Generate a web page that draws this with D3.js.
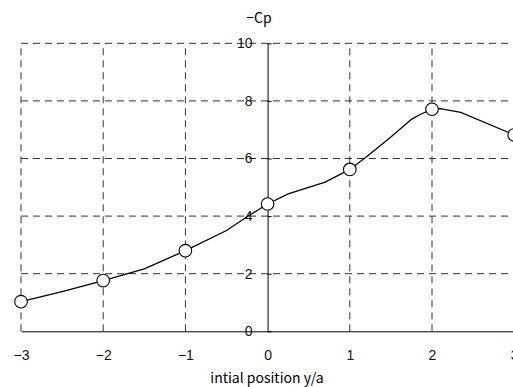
<!DOCTYPE html>
<html>
<head>
<meta charset="utf-8">
<script src="https://cdn.jsdelivr.net/npm/d3@7"></script>
<style>
  html, body { margin: 0; padding: 0; background: #fff; }
  svg { display: block; font-family: "Noto Sans CJK JP", "DejaVu Sans", sans-serif; }
  .grid line { stroke: #333; stroke-dasharray: 7,5; stroke-width: 1; }
  .axis path, .axis line { stroke: #000; }
  .axis text { font-size: 14px; fill: #111; }
</style>
</head>
<body>
<svg id="chart" width="513" height="387"></svg>
<script>
// marker positions (initial position y/a vs -Cp)
const markerX = [-3, -2, -1, 0, 1, 2, 3];
const markerY = [1.03, 1.76, 2.80, 4.42, 5.62, 7.71, 6.82];

// the connecting curve
const curveX = [-3, -2.5, -2, -1.5, -1, -0.5, -0.25, 0, 0.25, 0.7, 1, 1.2, 1.5, 1.75, 1.85, 2, 2.1, 2.35, 3];
const curveY = [1.03, 1.38, 1.76, 2.17, 2.80, 3.5, 3.98, 4.42, 4.77, 5.18, 5.62, 6.05, 6.75, 7.36, 7.52, 7.71, 7.73, 7.6, 6.82];

const xTicks = [-3, -2, -1, 0, 1, 2, 3];
const yTicks = [0, 2, 4, 6, 8, 10];

const svg = d3.select('#chart');

const x = d3.scaleLinear().domain([-3, 3]).range([21, 514.2]);
const y = d3.scaleLinear().domain([0, 10]).range([331.3, 43.3]);

// dashed grid
const grid = svg.append('g').attr('class', 'grid');
grid.selectAll('.gx')
  .data(xTicks.filter(d => d !== 0))
  .enter().append('line')
  .attr('x1', d => x(d)).attr('x2', d => x(d))
  .attr('y1', y(0)).attr('y2', y(10));
grid.selectAll('.gy')
  .data(yTicks.filter(d => d !== 0))
  .enter().append('line')
  .attr('x1', x(-3)).attr('x2', x(3))
  .attr('y1', d => y(d)).attr('y2', d => y(d));

// x axis along y=0
svg.append('g')
  .attr('class', 'axis')
  .attr('transform', `translate(0,${y(0)})`)
  .call(d3.axisBottom(x).tickValues(xTicks).tickFormat(d3.format('d'))
    .tickSize(0).tickSizeOuter(0).tickPadding(19));

// y axis along x=0
svg.append('g')
  .attr('class', 'axis')
  .attr('transform', `translate(${x(0)},0)`)
  .call(d3.axisLeft(y).tickValues(yTicks).tickFormat(d3.format('d'))
    .tickSize(-4).tickSizeOuter(0).tickPadding(15));

// titles
svg.append('text')
  .attr('x', 259).attr('y', 23)
  .attr('text-anchor', 'middle')
  .style('font-size', '14px')
  .text('\u2212Cp');

svg.append('text')
  .attr('x', 267).attr('y', 383)
  .attr('text-anchor', 'middle')
  .style('font-size', '14px')
  .text('intial position y/a');

// curve
const line = d3.line()
  .x((d, i) => x(curveX[i]))
  .y(d => y(d));

svg.append('path')
  .datum(curveY)
  .attr('fill', 'none')
  .attr('stroke', '#000')
  .attr('stroke-width', 1.3)
  .attr('d', line);

// markers
svg.selectAll('.pt')
  .data(markerY)
  .enter().append('circle')
  .attr('class', 'pt')
  .attr('cx', (d, i) => x(markerX[i]))
  .attr('cy', d => y(d))
  .attr('r', 6.3)
  .attr('fill', '#fff')
  .attr('stroke', '#000')
  .attr('stroke-width', 1.1);
</script>
</body>
</html>
